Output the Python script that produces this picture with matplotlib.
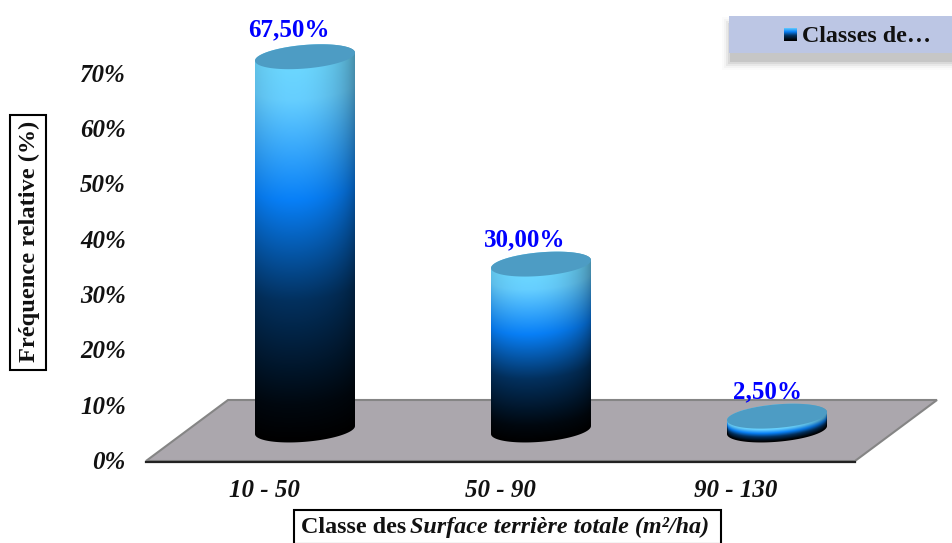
import matplotlib
matplotlib.use('Agg')
import matplotlib.pyplot as plt
import numpy as np
from matplotlib.patches import Polygon, Rectangle, PathPatch
from matplotlib.path import Path
from matplotlib.transforms import Affine2D

plt.rcParams['font.family'] = ['Liberation Serif', 'DejaVu Serif']

categories = ['10 - 50', '50 - 90', '90 - 130']
freq = [67.5, 30.0, 2.5]
freq_labels = ['67,50%', '30,00%', '2,50%']
y_ticks = [0, 10, 20, 30, 40, 50, 60, 70]
y_labels = ['0%', '10%', '20%', '30%', '40%', '50%', '60%', '70%']

W, H = 952, 543
PX_X = 236      # pixels per category
PX_Y = 5.53     # pixels per percent
DEPTH_X = 41 / PX_X    # the floor pushes the bars back and to the right
DEPTH_Y = 30 / PX_Y
HALF_W = 50     # bar half width, px
MINOR = 11.8    # ellipse half height, px
SHEAR = 0.08

fig = plt.figure(figsize=(W / 100, H / 100), dpi=100, facecolor='white')
ax = fig.add_axes([146 / W, (H - 460) / H, 708 / W, 460 / H])
ax.patch.set_visible(False)
for s in ax.spines.values():
    s.set_visible(False)

# pixel coordinates, y going down like the picture
px = Affine2D().scale(1, -1).translate(0, H)

# floor
ax.add_patch(Polygon([(146, 461), (228, 400), (937, 400), (855, 461)], closed=True, transform=px,
                     facecolor='#aba7ad', edgecolor='#858585', lw=1.5, clip_on=False, zorder=1))
ax.plot([146, 855], [461.5, 461.5], color='#222222', lw=1.6, transform=px, clip_on=False, zorder=1.1)


def side_colors(frac):
    stops = [0, 0.08, 0.35, 0.62, 0.9, 1]
    r = np.interp(frac, stops, [0.42, 0.40, 0.03, 0.01, 0.0, 0.0])
    g = np.interp(frac, stops, [0.84, 0.81, 0.50, 0.19, 0.03, 0.0])
    b = np.interp(frac, stops, [1.00, 1.00, 0.97, 0.37, 0.06, 0.0])
    return np.dstack([r, g, b])


def draw_bar(i, value):
    cx = i + DEPTH_X
    base = DEPTH_Y
    top = value + DEPTH_Y
    # grid in pixels around the bar centre
    xs = np.arange(-HALF_W, HALF_W + 1) + 0.0
    ext_top = value * PX_Y + MINOR + 6
    ys = np.arange(-MINOR - 6, ext_top + 1) + 0.0
    xx, yy = np.meshgrid(xs, ys)
    curve = np.sqrt(np.clip(1 - (xx / HALF_W) ** 2, 0, 1)) * MINOR
    low = SHEAR * xx - curve
    high = value * PX_Y + SHEAR * xx - curve
    frac = np.clip((high - yy) / np.maximum(high - low, 1), 0, 1)
    # the light comes a bit from the left
    shade = 0.5 + 0.5 * np.sqrt(np.clip(1 - ((xx + 12) / 66) ** 2, 0, 1))
    img = side_colors(frac) * shade[:, :, None]
    im = ax.imshow(img, origin='lower', aspect='auto', zorder=2,
                   extent=[cx - HALF_W / PX_X, cx + HALF_W / PX_X,
                           base + ys[0] / PX_Y, base + ys[-1] / PX_Y])

    t = np.linspace(0, 2 * np.pi, 121)
    ex = HALF_W * np.cos(t)
    ey = MINOR * np.sin(t) + SHEAR * ex
    lower = t >= np.pi
    upper = t <= np.pi
    vx = np.r_[ex[lower], ex[upper]]
    vy = np.r_[ey[lower], ey[upper] + value * PX_Y]
    wall = np.column_stack([cx + vx / PX_X, base + vy / PX_Y])
    clip = PathPatch(Path(np.vstack([wall, wall[0]])), transform=ax.transData)
    im.set_clip_path(clip)

    cap = np.column_stack([cx + ex / PX_X, top + ey / PX_Y])
    ax.add_patch(Polygon(cap, closed=True, facecolor='#4d9cc4', edgecolor='none', zorder=3))
    return cx, top


label_shift = [(-16, 27), (-16, 24), (-10, 24)]
for i, v in enumerate(freq):
    cx, top = draw_bar(i, v)
    ax.annotate(freq_labels[i], (cx, top), xytext=label_shift[i], textcoords='offset pixels',
                ha='center', va='center', color='#0000ff', fontsize=18, fontweight='bold', zorder=5)

ax.set_xlim(-0.5, 2.5)
ax.set_ylim(0, 460 / PX_Y)
ax.set_xticks(range(len(categories)))
ax.set_xticklabels(categories, fontsize=18, fontweight='bold', fontstyle='italic', color='#111111')
ax.set_yticks(y_ticks)
ax.set_yticklabels(y_labels, fontsize=18, fontweight='bold', fontstyle='italic', color='#111111')
ax.tick_params(axis='x', length=0, pad=14)
ax.tick_params(axis='y', length=0, pad=14.5)

# y title in a box
fig.add_artist(Rectangle((10, 115), 36, 255, transform=px, facecolor='white', edgecolor='black', lw=1.5))
fig.text(29, H - 241, 'Fréquence relative (%)', transform=Affine2D(), rotation=90, ha='center', va='center',
         fontsize=17.6, fontweight='bold', color='#111111')

# x title in a box, two fonts
fig.add_artist(Rectangle((294, 510), 427, 34, transform=px, facecolor='white', edgecolor='black', lw=1.5))
fig.text(406, H - 533, 'Classe des', transform=Affine2D(), ha='right', va='baseline',
         fontsize=17.4, fontweight='bold', color='#111111')
fig.text(410, H - 533, 'Surface terrière totale (m²/ha)', transform=Affine2D(), ha='left', va='baseline',
         fontsize=17.4, fontweight='bold', fontstyle='italic', color='#111111')

# legend with its soft shadow
for grow, alpha in zip([9, 7, 5, 3, 1], [0.02, 0.04, 0.07, 0.10, 0.14]):
    fig.add_artist(Rectangle((729 - grow + 2, 26 - grow), 240 + 2 * grow, 37 + 2 * grow - 2, transform=px,
                             facecolor='#555555', edgecolor='none', alpha=alpha))
fig.add_artist(Rectangle((729, 16), 240, 37, transform=px, facecolor='#bcc6e4', edgecolor='none'))
swatch = fig.add_axes([784 / W, (H - 41) / H, 13 / W, 13 / H], zorder=5)
swatch.imshow(side_colors(np.linspace(0.1, 1, 32)[:, None]), aspect='auto')
swatch.axis('off')
fig.text(802, H - 36, 'Classes de…', transform=Affine2D(), ha='left', va='center',
         fontsize=17.3, fontweight='bold', color='#111111')

fig.savefig('out.png', dpi=100)
